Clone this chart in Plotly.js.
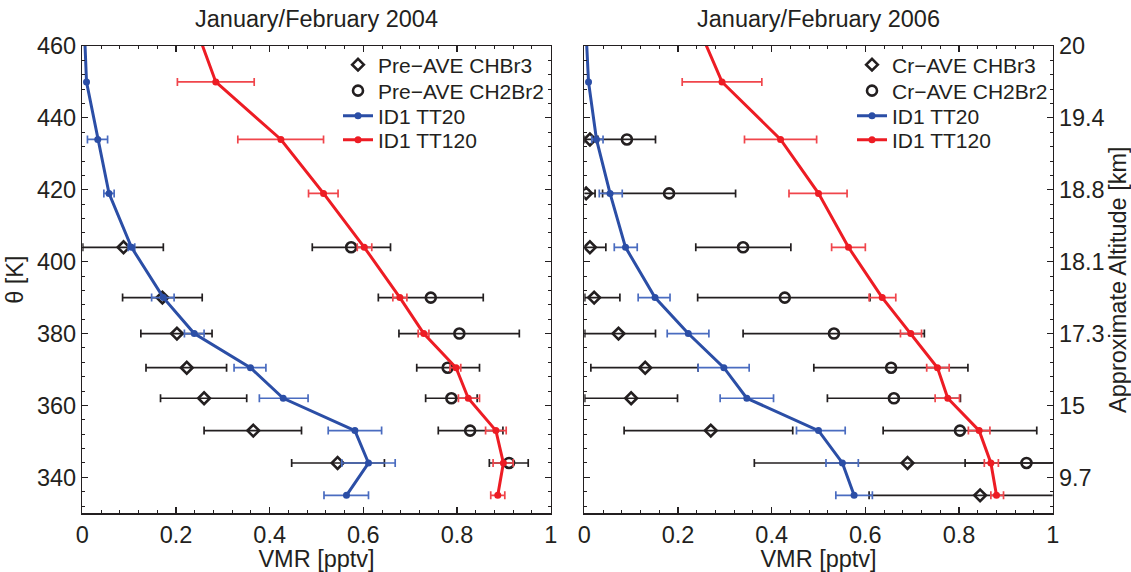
<!DOCTYPE html>
<html>
<head>
<meta charset="utf-8">
<script src="https://cdn.plot.ly/plotly-3.0.1.min.js"></script>
<style>html,body{margin:0;padding:0;background:#fff;}#chart{width:1131px;height:572px;}</style>
</head>
<body>
<div id="chart"></div>
<script>
// ---- Data (potential temperature levels, K) ----
const thetaModel = [335, 344, 353, 362, 370.5, 380, 390, 404, 419, 434, 450, 466];
const thetaObs2004 = [344, 353, 362, 370.5, 380, 390, 404];
const thetaObs2006Br3 = [335, 344, 353, 362, 370.5, 380, 390, 404, 419, 434];
const thetaObs2006Br2 = [344, 353, 362, 370.5, 380, 390, 404, 419, 434];

// 2004 model (ID1)
const tt20_2004    = [0.564, 0.611, 0.582, 0.429, 0.359, 0.239, 0.173, 0.105, 0.057, 0.033, 0.009, 0.004];
const tt20_2004_lo = [0.516, 0.554, 0.525, 0.378, 0.324, 0.218, 0.148, 0.098, 0.046, 0.011, null, null];
const tt20_2004_hi = [0.611, 0.668, 0.639, 0.482, 0.392, 0.260, 0.196, 0.112, 0.068, 0.054, null, null];
const tt120_2004    = [0.887, 0.899, 0.883, 0.824, 0.798, 0.729, 0.678, 0.602, 0.515, 0.424, 0.285, 0.240];
const tt120_2004_lo = [0.872, 0.877, 0.861, 0.803, 0.785, 0.717, 0.663, 0.587, 0.483, 0.332, 0.203, null];
const tt120_2004_hi = [0.902, 0.920, 0.905, 0.848, 0.808, 0.740, 0.693, 0.618, 0.546, 0.515, 0.367, null];

// 2004 observations (Pre-AVE)
const chbr3_2004    = [0.545, 0.365, 0.260, 0.223, 0.202, 0.171, 0.088];
const chbr3_2004_lo = [0.447, 0.260, 0.167, 0.136, 0.125, 0.086, 0.001];
const chbr3_2004_hi = [0.645, 0.468, 0.351, 0.308, 0.277, 0.256, 0.173];
const ch2br2_2004    = [0.911, 0.828, 0.788, 0.780, 0.805, 0.744, 0.574];
const ch2br2_2004_lo = [0.869, 0.760, 0.733, 0.714, 0.676, 0.632, 0.491];
const ch2br2_2004_hi = [0.952, 0.898, 0.843, 0.848, 0.933, 0.856, 0.658];

// 2006 model (ID1)
const tt20_2006    = [0.576, 0.551, 0.500, 0.347, 0.298, 0.222, 0.151, 0.088, 0.055, 0.026, 0.009, 0.003];
const tt20_2006_lo = [0.537, 0.516, 0.453, 0.290, 0.243, 0.177, 0.115, 0.064, 0.032, 0.016, null, null];
const tt20_2006_hi = [0.615, 0.585, 0.557, 0.404, 0.352, 0.266, 0.183, 0.113, 0.081, 0.040, null, null];
const tt120_2006    = [0.880, 0.868, 0.843, 0.776, 0.754, 0.697, 0.636, 0.564, 0.500, 0.419, 0.294, 0.241];
const tt120_2006_lo = [0.868, 0.854, 0.820, 0.749, 0.731, 0.675, 0.608, 0.528, 0.437, 0.342, 0.209, null];
const tt120_2006_hi = [0.895, 0.884, 0.866, 0.801, 0.779, 0.720, 0.665, 0.600, 0.561, 0.496, 0.379, null];

// 2006 observations (Cr-AVE)
const chbr3_2006    = [0.845, 0.690, 0.270, 0.100, 0.130, 0.073, 0.021, 0.012, 0.004, 0.012];
const chbr3_2006_lo = [0.608, 0.363, 0.085, 0.001, 0.014, 0.001, 0.001, -0.020, -0.015, 0.000];
const chbr3_2006_hi = [1.080, 1.020, 0.445, 0.199, 0.243, 0.152, 0.076, 0.046, 0.023, 0.026];
const ch2br2_2006    = [0.944, 0.802, 0.661, 0.655, 0.533, 0.428, 0.339, 0.181, 0.091];
const ch2br2_2006_lo = [0.813, 0.638, 0.519, 0.490, 0.339, 0.242, 0.238, 0.039, 0.029];
const ch2br2_2006_hi = [1.080, 0.966, 0.803, 0.819, 0.726, 0.610, 0.441, 0.323, 0.152];

// Right-axis altitude labels (km) at theta ticks
const altTickTheta = [340, 360, 380, 400, 420, 440, 460];
const altTickText  = ['9.7', '15', '17.3', '18.1', '18.8', '19.4', '20'];

// ---- Styling ----
const FONT = 'Liberation Sans, Arial, Helvetica, sans-serif';
const INK = '#231f20';
const FS = 23.5, LFS = 21;
const BLUE = '#2b4ea6', BLUE_ERR = '#4a6cc0';
const RED = '#ed1c24', RED_ERR = '#f0454b';

function err(x, lo, hi, color) {
  return {
    type: 'data', symmetric: false,
    array: x.map((v, i) => hi[i] == null ? NaN : hi[i] - v),
    arrayminus: x.map((v, i) => lo[i] == null ? NaN : v - lo[i]),
    color: color, thickness: 1.7, width: 4
  };
}

function obsTrace(x, y, lo, hi, symbol, size, name, xa, ya, leg) {
  return {
    x: x, y: y, type: 'scatter', mode: 'markers', name: name,
    xaxis: xa, yaxis: ya, legend: leg,
    marker: {symbol: symbol, size: size, color: INK, line: {color: INK, width: 2.6}},
    error_x: err(x, lo, hi, INK)
  };
}
function modelTrace(x, y, lo, hi, color, ecolor, name, xa, ya, leg) {
  return {
    x: x, y: y, type: 'scatter', mode: 'lines+markers', name: name,
    xaxis: xa, yaxis: ya, legend: leg,
    line: {color: color, width: 3},
    marker: {symbol: 'circle', size: 7, color: color},
    error_x: err(x, lo, hi, ecolor)
  };
}

const traces = [
  obsTrace(chbr3_2004, thetaObs2004, chbr3_2004_lo, chbr3_2004_hi, 'diamond-open', 9, 'Pre\u2212AVE CHBr3', 'x', 'y', 'legend'),
  obsTrace(ch2br2_2004, thetaObs2004, ch2br2_2004_lo, ch2br2_2004_hi, 'circle-open', 10, 'Pre\u2212AVE CH2Br2', 'x', 'y', 'legend2'),
  modelTrace(tt20_2004, thetaModel, tt20_2004_lo, tt20_2004_hi, BLUE, BLUE_ERR, 'ID1 TT20', 'x', 'y', 'legend3'),
  modelTrace(tt120_2004, thetaModel, tt120_2004_lo, tt120_2004_hi, RED, RED_ERR, 'ID1 TT120', 'x', 'y', 'legend4'),
  obsTrace(chbr3_2006, thetaObs2006Br3, chbr3_2006_lo, chbr3_2006_hi, 'diamond-open', 9, 'Cr\u2212AVE CHBr3', 'x2', 'y2', 'legend5'),
  obsTrace(ch2br2_2006, thetaObs2006Br2, ch2br2_2006_lo, ch2br2_2006_hi, 'circle-open', 10, 'Cr\u2212AVE CH2Br2', 'x2', 'y2', 'legend6'),
  modelTrace(tt20_2006, thetaModel, tt20_2006_lo, tt20_2006_hi, BLUE, BLUE_ERR, 'ID1 TT20', 'x2', 'y2', 'legend7'),
  modelTrace(tt120_2006, thetaModel, tt120_2006_lo, tt120_2006_hi, RED, RED_ERR, 'ID1 TT120', 'x2', 'y2', 'legend8'),
  // invisible trace to carry the right altitude axis
  {x: [0.5], y: [400], xaxis: 'x2', yaxis: 'y3', type: 'scatter', mode: 'markers',
   marker: {opacity: 0}, showlegend: false, hoverinfo: 'skip'}
];

const W = 1131, H = 572;
const px = v => v / W, py = v => 1 - v / H;

const baseAxis = {
  showgrid: false, zeroline: false, showline: true, linecolor: INK, linewidth: 1.5,
  ticks: 'inside', ticklen: 6, tickwidth: 1.2, tickcolor: INK, mirror: 'ticks',
  tickfont: {family: FONT, size: FS, color: INK}
};
const xAxis = (dom, anchor) => Object.assign({}, baseAxis, {
  domain: dom, anchor: anchor, range: [0, 1], tickvals: [0, 0.2, 0.4, 0.6, 0.8, 1],
  ticktext: ['0', '0.2', '0.4', '0.6', '0.8', '1'],
  minor: {dtick: 0.04, tick0: 0, ticks: 'inside', ticklen: 3, tickcolor: INK, tickwidth: 1},
  title: {text: 'VMR [pptv]', font: {family: FONT, size: FS, color: INK}, standoff: 1}
});
const yDom = [py(513.3), py(46)];

// one single-entry legend per row, so the row spacing can follow the reference
const legRowY = [65, 91, 116, 140];
function leg(xPix, row) {
  return {x: px(xPix), y: py(legRowY[row]), xanchor: 'left', yanchor: 'middle',
    bgcolor: 'rgba(0,0,0,0)', borderwidth: 0, font: {family: FONT, size: LFS, color: INK}};
}

const layout = {
  width: W, height: H, paper_bgcolor: '#fff', plot_bgcolor: '#fff',
  margin: {l: 0, r: 0, t: 0, b: 0, autoexpand: false},
  font: {family: FONT, size: FS, color: INK},
  showlegend: true,
  xaxis: xAxis([px(82.3), px(550.7)], 'y'),
  xaxis2: xAxis([px(584.3), px(1052.7)], 'y2'),
  yaxis: Object.assign({}, baseAxis, {
    domain: yDom, anchor: 'x', range: [330, 460], dtick: 20, tick0: 340,
    minor: {dtick: 4, tick0: 340, ticks: 'inside', ticklen: 3, tickcolor: INK, tickwidth: 1},
    title: {text: '\u03b8 [K]', font: {family: FONT, size: FS, color: INK}, standoff: 6}
  }),
  yaxis2: Object.assign({}, baseAxis, {
    domain: yDom, anchor: 'x2', range: [330, 460], dtick: 20, tick0: 340,
    showticklabels: false, mirror: false,
    minor: {dtick: 4, tick0: 340, ticks: 'inside', ticklen: 3, tickcolor: INK, tickwidth: 1}
  }),
  yaxis3: Object.assign({}, baseAxis, {
    domain: yDom, anchor: 'x2', overlaying: 'y2', side: 'right', range: [330, 460],
    tickvals: altTickTheta, ticktext: altTickText, mirror: false,
    minor: {dtick: 4, tick0: 340, ticks: 'inside', ticklen: 3, tickcolor: INK, tickwidth: 1},
    title: {text: 'Approximate Altitude [km]', font: {family: FONT, size: FS, color: INK}, standoff: 6}
  }),
  legend: leg(338, 0), legend2: leg(338, 1), legend3: leg(338, 2), legend4: leg(338, 3),
  legend5: leg(852, 0), legend6: leg(852, 1), legend7: leg(852, 2), legend8: leg(852, 3),
  annotations: [
    {text: 'January/February 2004', x: px(316.5), y: py(19), xref: 'paper', yref: 'paper',
     xanchor: 'center', yanchor: 'middle', showarrow: false, font: {family: FONT, size: FS, color: INK}},
    {text: 'January/February 2006', x: px(818.5), y: py(19), xref: 'paper', yref: 'paper',
     xanchor: 'center', yanchor: 'middle', showarrow: false, font: {family: FONT, size: FS, color: INK}}
  ]
};

Plotly.newPlot('chart', traces, layout, {displayModeBar: false, staticPlot: true});
</script>
</body>
</html>
